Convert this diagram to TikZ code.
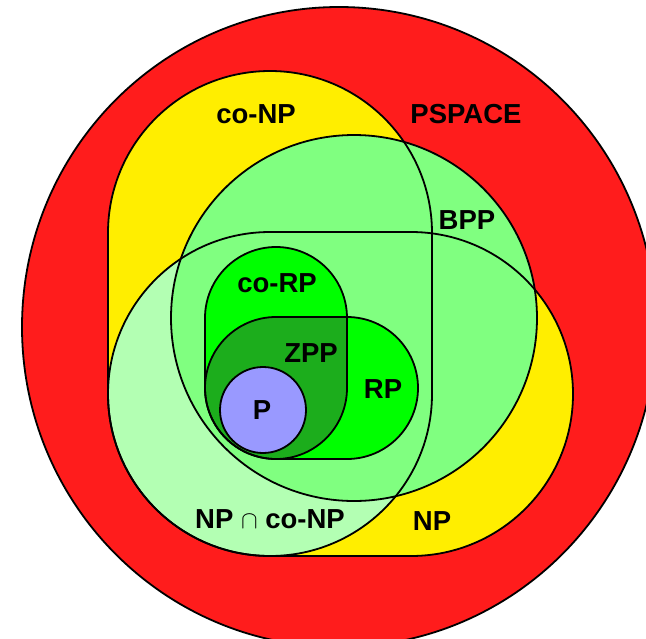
\documentclass[tikz,border=0pt]{standalone}
\usepackage{fontspec}
\setmainfont{Liberation Sans}
\begin{document}
\begin{tikzpicture}[x=1pt,y=-1pt,
  outline/.style={draw=black,line width=1.8pt},
  lab/.style={font=\bfseries\fontsize{27.5}{30}\selectfont,inner sep=0pt,text=black}]
\definecolor{cred}{RGB}{255,28,28}
\definecolor{cyel}{RGB}{255,238,0}
\definecolor{cbpp}{RGB}{128,255,128}
\definecolor{cnpc}{RGB}{179,255,179}
\definecolor{cgrn}{RGB}{0,255,0}
\definecolor{czpp}{RGB}{28,173,28}
\definecolor{cp}{RGB}{153,153,255}
\useasboundingbox (0,0) rectangle (646,638);
% PSPACE
\fill[cred] (339,327) ellipse[x radius=317pt,y radius=320pt];
\draw[outline] (339,327) ellipse[x radius=317pt,y radius=320pt];
% co-NP and NP
\fill[cyel,rounded corners=162pt] (108,71) rectangle (432,556);
\fill[cyel,rounded corners=162pt] (108,232) rectangle (573,556);
% NP cap co-NP
\begin{scope}
  \clip[rounded corners=162pt] (108,71) rectangle (432,556);
  \fill[cnpc,rounded corners=162pt] (108,232) rectangle (573,556);
\end{scope}
% BPP
\fill[cbpp] (354,318) circle[radius=183pt];
% co-RP and RP
\fill[cgrn,rounded corners=71pt] (205,247) rectangle (347,459);
\fill[cgrn,rounded corners=71pt] (205,317) rectangle (418,459);
\begin{scope}
  \clip[rounded corners=71pt] (205,247) rectangle (347,459);
  \fill[czpp,rounded corners=71pt] (205,317) rectangle (418,459);
\end{scope}
% P
\fill[cp] (263,410) circle[radius=43pt];
% outlines
\draw[outline,rounded corners=162pt] (108,71) rectangle (432,556);
\draw[outline,rounded corners=162pt] (108,232) rectangle (573,556);
\draw[outline] (354,318) circle[radius=183pt];
\draw[outline,rounded corners=71pt] (205,247) rectangle (347,459);
\draw[outline,rounded corners=71pt] (205,317) rectangle (418,459);
\draw[outline] (263,410) circle[radius=43pt];
% labels
\node[lab] (pspace) at (466,114) {PSPACE};
\node[lab] (conp) at (256,114) {co-NP};
\node[lab] (bpp) at (467,220) {BPP};
\node[lab] (corp) at (277,283) {co-RP};
\node[lab] (zpp) at (311,353) {ZPP};
\node[lab] (rp) at (383,389) {RP};
\node[lab] (p) at (262,410) {P};
\node[lab] (npconp) at (270,519) {NP {\mdseries$\cap$} co-NP};
\node[lab] (np) at (432,521) {NP};
\end{tikzpicture}
\end{document}
